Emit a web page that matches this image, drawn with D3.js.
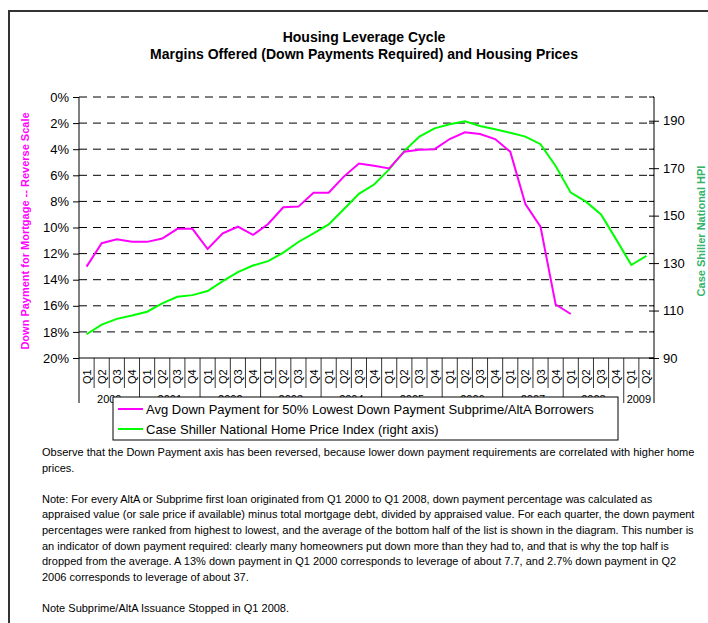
<!DOCTYPE html>
<html>
<head>
<meta charset="utf-8">
<script src="https://cdn.jsdelivr.net/npm/d3@7"></script>
<style>
  body { margin: 0; background: #fff; }
  svg { display: block; font-family: "Liberation Sans", Arial, sans-serif; }
</style>
</head>
<body>
<svg id="chart" width="708" height="623"></svg>
<script>
// quarters Q1 2000 .. Q2 2009
var years = ["2000", "2001", "2002", "2003", "2004", "2005", "2006", "2007", "2008", "2009"];
var quartersPerYear = [4, 4, 4, 4, 4, 4, 4, 4, 4, 2];
var quarterNames = ["Q1", "Q2", "Q3", "Q4"];

// avg down payment (%), Q1 2000 .. Q1 2008
var downPayment = [13.0, 11.2, 10.9, 11.1, 11.1, 10.85, 10.1, 10.1, 11.65, 10.45, 9.94, 10.57,
  9.73, 8.45, 8.4, 7.33, 7.33, 6.1, 5.1, 5.26, 5.47, 4.19, 4.04, 4.0,
  3.22, 2.7, 2.84, 3.22, 4.19, 8.2, 9.94, 15.9, 16.63];

// Case Shiller national HPI, Q1 2000 .. Q2 2009
var hpi = [100, 104.1, 106.5, 107.9, 109.5, 113, 115.8, 116.5, 118.2, 122.4, 126.2, 129,
  130.8, 134.4, 138.9, 142.5, 146.3, 152.7, 159.2, 163.1, 169.5, 177.3, 183.3, 186.8,
  188.5, 189.8, 187.8, 186.4, 184.9, 183.3, 180.1, 170.9, 159.7, 155.9, 150.5, 140,
  129.2, 133];

var leftTicks = [0, 2, 4, 6, 8, 10, 12, 14, 16, 18, 20];
var rightTicks = [90, 110, 130, 150, 170, 190];

var legendLabels = ["Avg Down Payment for 50% Lowest Down Payment Subprime/AltA Borrowers",
  "Case Shiller National Home Price Index (right axis)"];

var notes = [
  "Observe that the Down Payment axis has been reversed, because lower down payment requirements are correlated with higher home",
  "prices.",
  "",
  "Note: For every AltA or Subprime first loan originated from Q1 2000 to Q1 2008, down payment percentage was calculated as",
  "appraised value (or sale price if available) minus total mortgage debt, divided by appraised value.  For each quarter, the down payment",
  "percentages were ranked from highest to lowest, and the average of the bottom half of the list is shown in the diagram. This number is",
  "an indicator of down payment required: clearly  many homeowners put down more than they had to, and that is why the top half is",
  "dropped from the average.  A 13% down payment in Q1 2000 corresponds to leverage of about 7.7, and 2.7% down payment in Q2",
  "2006 corresponds to leverage of about 37.",
  "",
  "Note Subprime/AltA Issuance Stopped in Q1 2008."
];

(function() {
  var magenta = "#ff00ff", lime = "#00ff00";
  var svg = d3.select("#chart");

  // page frame
  svg.append("path").attr("d", "M9,623V11H708").attr("fill", "none")
    .attr("stroke", "#333").attr("stroke-width", 2);

  // titles
  svg.append("text").attr("x", 364).attr("y", 42).attr("text-anchor", "middle")
    .attr("font-size", 14).attr("font-weight", "bold").text("Housing Leverage Cycle");
  svg.append("text").attr("x", 364).attr("y", 59).attr("text-anchor", "middle")
    .attr("font-size", 14).attr("font-weight", "bold")
    .text("Margins Offered (Down Payments Required) and Housing Prices");

  var pLeft = 79, pRight = 654, pTop = 97, pBottom = 358;

  var labels = [];
  years.forEach(function(y, i) {
    for (var q = 0; q < quartersPerYear[i]; q++) labels.push({ year: y, q: quarterNames[q] });
  });

  var x = d3.scaleBand().domain(d3.range(labels.length)).range([pLeft, pRight]);
  var yL = d3.scaleLinear().domain([0, 20]).range([pTop, pBottom]);
  var yR = d3.scaleLinear().domain([90, 200]).range([pBottom, pTop]);

  // dashed gridlines
  svg.append("g").selectAll("line").data(leftTicks.slice(0, -1)).join("line")
    .attr("x1", pLeft).attr("x2", pRight)
    .attr("y1", function(d) { return yL(d); }).attr("y2", function(d) { return yL(d); })
    .attr("stroke", "#000").attr("stroke-dasharray", "8,6");

  // left axis
  var gL = svg.append("g").attr("transform", "translate(" + pLeft + ",0)")
    .call(d3.axisLeft(yL).tickValues(leftTicks).tickFormat(function(d) { return d + "%"; })
      .tickSize(6).tickPadding(4));
  gL.select(".domain").remove();
  gL.selectAll("line").attr("stroke", "#000");
  gL.selectAll("text").attr("font-size", 13).attr("font-family", "Liberation Sans, Arial, sans-serif").attr("fill", "#000");
  svg.append("line").attr("x1", pLeft).attr("x2", pLeft).attr("y1", pTop).attr("y2", 403).attr("stroke", "#000");

  // right axis
  var gR = svg.append("g").attr("transform", "translate(" + pRight + ",0)")
    .call(d3.axisRight(yR).tickValues(rightTicks).tickSizeInner(5).tickSizeOuter(0).tickPadding(4));
  gR.select(".domain").remove();
  gR.selectAll(".tick line").attr("x1", -5).attr("stroke", "#000");
  gR.selectAll("text").attr("font-size", 13).attr("font-family", "Liberation Sans, Arial, sans-serif").attr("fill", "#000");
  svg.append("line").attr("x1", pRight).attr("x2", pRight).attr("y1", pTop).attr("y2", 403).attr("stroke", "#000");
  svg.append("g").selectAll("line").data(leftTicks).join("line")
    .attr("x1", pRight - 5).attr("x2", pRight)
    .attr("y1", function(d) { return yL(d); }).attr("y2", function(d) { return yL(d); })
    .attr("stroke", "#000");

  // bottom category axis
  svg.append("line").attr("x1", pLeft).attr("x2", pRight).attr("y1", pBottom).attr("y2", pBottom).attr("stroke", "#000");
  var gX = svg.append("g");
  gX.selectAll("line.q").data(d3.range(1, labels.length)).join("line")
    .attr("x1", function(d) { return x(d); }).attr("x2", function(d) { return x(d); })
    .attr("y1", pBottom).attr("y2", function(d) { return d % 4 === 0 ? 403 : 388; })
    .attr("stroke", "#000").attr("stroke-width", 0.8);
  gX.selectAll("text.q").data(labels).join("text")
    .attr("transform", function(d, i) {
      return "translate(" + (x(i) + x.bandwidth() / 2 + 4) + ",384) rotate(-90)";
    })
    .attr("font-size", 11).text(function(d) { return d.q; });
  var start = 0;
  years.forEach(function(y, i) {
    var n = quartersPerYear[i];
    var cx = (x(start) + x(start + n - 1) + x.bandwidth()) / 2;
    gX.append("text").attr("x", cx).attr("y", 403).attr("text-anchor", "middle")
      .attr("font-size", 11).text(y);
    start += n;
  });

  // series
  var px = function(d, i) { return x(i) + x.bandwidth() / 2; };
  svg.append("path").datum(hpi)
    .attr("d", d3.line().x(px).y(function(d) { return yR(d); }))
    .attr("fill", "none").attr("stroke", lime).attr("stroke-width", 2);
  svg.append("path").datum(downPayment)
    .attr("d", d3.line().x(px).y(function(d) { return yL(d); }))
    .attr("fill", "none").attr("stroke", magenta).attr("stroke-width", 2);

  // axis titles
  svg.append("text").attr("transform", "translate(29,231) rotate(-90)").attr("text-anchor", "middle")
    .attr("font-size", 11).attr("font-weight", "bold").attr("fill", magenta)
    .text("Down Payment for Mortgage -- Reverse Scale");
  svg.append("text").attr("transform", "translate(705,231) rotate(-90)").attr("text-anchor", "middle")
    .attr("font-size", 11).attr("font-weight", "bold").attr("fill", "#33b36b")
    .text("Case Shiller National HPI");

  // legend
  var lg = svg.append("g").attr("transform", "translate(113,397)");
  lg.append("rect").attr("width", 505).attr("height", 43).attr("fill", "#fff").attr("stroke", "#000");
  lg.selectAll("line").data([magenta, lime]).join("line")
    .attr("x1", 5).attr("x2", 30)
    .attr("y1", function(d, i) { return 12 + i * 20; }).attr("y2", function(d, i) { return 12 + i * 20; })
    .attr("stroke", function(d) { return d; }).attr("stroke-width", 2);
  lg.selectAll("text").data(legendLabels).join("text")
    .attr("x", 33).attr("y", function(d, i) { return 17 + i * 20; })
    .attr("font-size", 13).text(function(d) { return d; });

  // notes
  svg.append("g").selectAll("text").data(notes).join("text")
    .attr("x", 42).attr("y", function(d, i) { return 456 + i * 15.6; })
    .attr("font-size", 11).text(function(d) { return d; });
})();
</script>
</body>
</html>
